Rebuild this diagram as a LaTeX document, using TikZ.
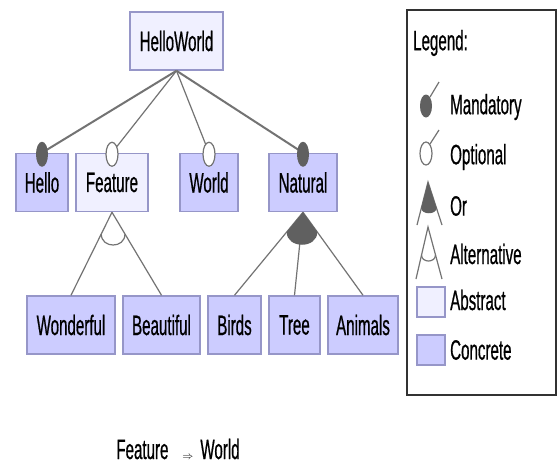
\documentclass[tikz,border=0pt]{standalone}
\usepackage{fontspec}
\setmainfont{Liberation Sans}[FakeStretch=0.54,FakeBold=0.6]
\usetikzlibrary{calc}

\definecolor{concrete}{RGB}{204,204,255}
\definecolor{abstract}{RGB}{240,240,255}
\definecolor{fborder}{RGB}{150,150,200}
\definecolor{edgegray}{RGB}{115,115,115}
\definecolor{markgray}{RGB}{96,96,96}
\definecolor{legendline}{RGB}{50,50,50}

\begin{document}
\begin{tikzpicture}[x=1pt,y=-1pt,
    feat/.style={draw=fborder,line width=1.5pt,inner sep=0pt,minimum height=58pt,
        font=\fontsize{28}{32}\selectfont},
    conc/.style={feat,fill=concrete},
    abst/.style={feat,fill=abstract},
    e/.style={draw=edgegray,line width=1.2pt},
    mnd/.style={e,line width=2pt},
    lbl/.style={anchor=west,inner sep=0pt,font=\fontsize{28}{32}\selectfont}]
    \useasboundingbox[fill=white] (0,0) rectangle (557,464);

    % features
    \node[abst,minimum width=93pt] (hw) at (176.5,41) {HelloWorld};
    \node[conc,minimum width=52pt] (hello) at (42,182.5) {Hello};
    \node[abst,minimum width=72pt] (feature) at (112,182.5) {Feature};
    \node[conc,minimum width=58pt] (world) at (209,182.5) {World};
    \node[conc,minimum width=68pt] (natural) at (303,182.5) {Natural};
    \node[conc,minimum width=88pt] (wonderful) at (71,325) {Wonderful};
    \node[conc,minimum width=77pt] (beautiful) at (161.5,325) {Beautiful};
    \node[conc,minimum width=53pt] (birds) at (234.5,325) {Birds};
    \node[conc,minimum width=51pt] (tree) at (294.5,325) {Tree};
    \node[conc,minimum width=70pt] (animals) at (363,325) {Animals};

    % mandatory / optional
    \draw[mnd] (hw.south) -- (hello.north);
    \draw[e] (hw.south) -- (feature.north);
    \draw[e] (hw.south) -- (world.north);
    \draw[mnd] (hw.south) -- (natural.north);
    \fill[markgray] ($(hello.north)+(0,1.5)$) ellipse [x radius=6pt,y radius=12.5pt];
    \fill[markgray] ($(natural.north)+(0,1.5)$) ellipse [x radius=6pt,y radius=12.5pt];
    \draw[e,fill=white] ($(feature.north)+(0,1.5)$) ellipse [x radius=6pt,y radius=12pt];
    \draw[e,fill=white] ($(world.north)+(0,1.5)$) ellipse [x radius=6pt,y radius=12pt];

    % alternative group
    \draw[e] (feature.south) -- (wonderful.north);
    \draw[e] (feature.south) -- (beautiful.north);
    \coordinate (altl) at ($(feature.south)!0.262!(wonderful.north)$);
    \coordinate (altr) at ($(feature.south)!0.262!(beautiful.north)$);
    \draw[e] (altl) .. controls +(0,14.7) and +(0,14.7) .. (altr);

    % or group
    \draw[e] (natural.south) -- (birds.north);
    \draw[e] (natural.south) -- (tree.north);
    \draw[e] (natural.south) -- (animals.north);
    \coordinate (orl) at ($(natural.south)!0.238!(birds.north)$);
    \coordinate (orr) at ($(natural.south)!0.238!(animals.north)$);
    \fill[markgray] (natural.south) -- (orl) .. controls +(0,17) and +(0,17) .. (orr) -- cycle;

    % legend
    \draw[legendline,line width=2pt] (407,10) rectangle (556,395);
    \node[lbl] (legend) at (413,43) {Legend:};
    \node[lbl] (lmand) at (450,107) {Mandatory};
    \node[lbl] (lopt) at (450,157) {Optional};
    \node[lbl] (lor) at (450,206) {Or};
    \node[lbl] (lalt) at (450,254) {Alternative};
    \node[lbl] (labst) at (450,300) {Abstract};
    \node[lbl] (lconc) at (450,350) {Concrete};
    \draw[e] (430,97) -- (439,82);
    \fill[markgray] (426,106) ellipse [x radius=6pt,y radius=11.5pt];
    \draw[e] (430,144) -- (439,130);
    \draw[e,fill=white] (426,153.5) ellipse [x radius=6pt,y radius=11.5pt];
    \draw[e] (417,225) -- (428,182) -- (442,225);
    \fill[markgray] (428,182) -- (421.3,208) .. controls (421.3,215) and (436.5,215) .. (436.5,208) -- cycle;
    \draw[e] (416,279) -- (428,227) -- (442,279);
    \draw[e] (421.5,255) .. controls (421.5,263) and (435.5,263) .. (435.5,255);
    \draw[draw=fborder,line width=1.5pt,fill=abstract] (417,287) rectangle (445,317);
    \draw[draw=fborder,line width=1.5pt,fill=concrete] (417,335) rectangle (445,365);

    % constraint
    \node[lbl,anchor=center] (constraint) at (178,449)
        {Feature\hspace{14pt}{\fontsize{11}{12}\selectfont$\Rightarrow$}\hspace{7pt}World};
\end{tikzpicture}
\end{document}
